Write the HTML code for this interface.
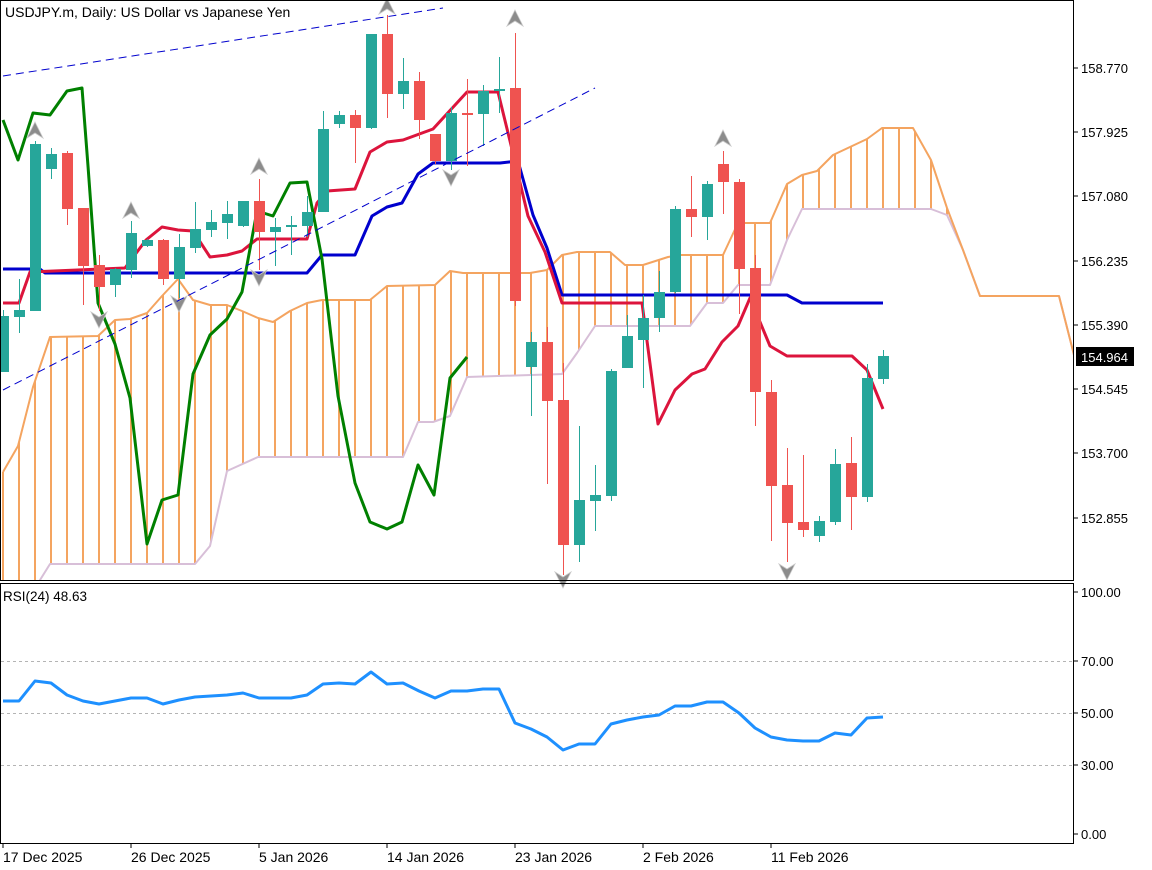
<!DOCTYPE html>
<html><head><meta charset="utf-8"><style>
html,body{margin:0;padding:0;background:#fff;}
svg{display:block;font-family:"Liberation Sans",sans-serif;font-size:13px;}
</style></head><body>
<svg id="s" width="1152" height="870" xmlns="http://www.w3.org/2000/svg">
<defs><clipPath id="mc"><rect x="1" y="1" width="1072" height="579"/></clipPath></defs>
<rect width="1152" height="870" fill="#fff"/>
<g id="cloud" clip-path="url(#mc)"></g>
<g id="lines" clip-path="url(#mc)"></g>
<g id="candles"></g>
<g id="arrows" fill="#8c8c8c" stroke="#c8c8c8" stroke-width="0.8"></g>
<line x1="3" y1="76" x2="443" y2="8" stroke="#0000cd" stroke-width="1" stroke-dasharray="8,5"/>
<line x1="3" y1="390" x2="595" y2="88" stroke="#0000cd" stroke-width="1" stroke-dasharray="8,5"/>
<rect x="0.5" y="0.5" width="1073" height="580" fill="none" stroke="#000"/>
<rect x="0.5" y="583.5" width="1073" height="260" fill="none" stroke="#000"/>
<text x="5" y="17" font-size="14">USDJPY.m, Daily:  US Dollar vs Japanese Yen</text>
<text x="3" y="601" font-size="13.5">RSI(24) 48.63</text>
<g font-size="13" fill="#000">
<line x1="1074" y1="68" x2="1078" y2="68" stroke="#000"/><text x="1081" y="73">158.770</text>
<line x1="1074" y1="132" x2="1078" y2="132" stroke="#000"/><text x="1081" y="137">157.925</text>
<line x1="1074" y1="196" x2="1078" y2="196" stroke="#000"/><text x="1081" y="201">157.080</text>
<line x1="1074" y1="261" x2="1078" y2="261" stroke="#000"/><text x="1081" y="266">156.235</text>
<line x1="1074" y1="325" x2="1078" y2="325" stroke="#000"/><text x="1081" y="330">155.390</text>
<line x1="1074" y1="389" x2="1078" y2="389" stroke="#000"/><text x="1081" y="394">154.545</text>
<line x1="1074" y1="453" x2="1078" y2="453" stroke="#000"/><text x="1081" y="458">153.700</text>
<line x1="1074" y1="518" x2="1078" y2="518" stroke="#000"/><text x="1081" y="523">152.855</text>
<rect x="1076" y="347" width="58" height="19" fill="#000"/>
<text x="1081" y="362" fill="#fff">154.964</text>
<line x1="1074" y1="592" x2="1078" y2="592" stroke="#000"/><text x="1081" y="597">100.00</text>
<line x1="1074" y1="661" x2="1078" y2="661" stroke="#000"/><text x="1081" y="666">70.00</text>
<line x1="1074" y1="713" x2="1078" y2="713" stroke="#000"/><text x="1081" y="718">50.00</text>
<line x1="1074" y1="765" x2="1078" y2="765" stroke="#000"/><text x="1081" y="770">30.00</text>
<line x1="1074" y1="834" x2="1078" y2="834" stroke="#000"/><text x="1081" y="839">0.00</text>
</g>
<g stroke="#b4b4b4" stroke-dasharray="3,3" stroke-width="1">
<line x1="1" y1="661.5" x2="1073" y2="661.5"/>
<line x1="1" y1="713.5" x2="1073" y2="713.5"/>
<line x1="1" y1="765.5" x2="1073" y2="765.5"/>
</g>
<polyline fill="none" stroke="#1e90ff" stroke-width="3" stroke-linejoin="round" points="3,701 19,701 35,681 51,683 67,695 83,701 99,704 115,701 131,698 147,698 163,704 179,700 195,697 211,696 227,695 243,693 259,698 275,698 291,698 307,695 323,684 339,683 355,684 371,672 387,684 403,683 419,691 435,698 451,691 467,691 483,689 499,689 515,723 531,729 547,737 563,750 579,744 595,744 611,724 627,720 643,717 659,715 675,706 691,706 707,702 723,702 739,713 755,728 771,737 787,740 803,741 819,741 835,733 851,735 867,718 883,717"/>
<g font-size="13" stroke="#000">
<line x1="3" y1="844" x2="3" y2="848"/><line x1="131" y1="844" x2="131" y2="848"/><line x1="259" y1="844" x2="259" y2="848"/><line x1="387" y1="844" x2="387" y2="848"/><line x1="515" y1="844" x2="515" y2="848"/><line x1="643" y1="844" x2="643" y2="848"/><line x1="771" y1="844" x2="771" y2="848"/>
</g>
<g font-size="14">
<text x="3" y="862">17 Dec 2025</text><text x="131" y="862">26 Dec 2025</text><text x="259" y="862">5 Jan 2026</text><text x="387" y="862">14 Jan 2026</text><text x="515" y="862">23 Jan 2026</text><text x="643" y="862">2 Feb 2026</text><text x="771" y="862">11 Feb 2026</text>
</g>
</svg>
<script>
var NS="http://www.w3.org/2000/svg";
function el(p,t,a){var e=document.createElementNS(NS,t);for(var k in a)e.setAttribute(k,a[k]);p.appendChild(e);return e;}
function interp(pts,x){if(x<pts[0][0])return null;for(var i=0;i<pts.length-1;i++){if(x>=pts[i][0]&&x<=pts[i+1][0]){var t=(x-pts[i][0])/(pts[i+1][0]-pts[i][0]||1);return pts[i][1]+t*(pts[i+1][1]-pts[i][1]);}}return null;}
var A=[[3,472],[18,446],[33,387],[50,337],[98,336],[115,320],[130,319],[147,313],[162,296],[178,279],[193,300],[210,305],[227,305],[242,311],[258,318],[273,322],[290,311],[307,303],[322,300],[370,300],[387,286],[435,285],[450,271],[463,273],[530,273],[547,270],[562,255],[577,252],[610,252],[625,265],[643,265],[668,257],[680,255],[723,255],[738,223],[770,223],[787,184],[802,175],[817,171],[833,155],[850,147],[867,139],[882,128],[913,128],[931,160],[947,208],[963,250],[980,296],[1059,296],[1074,355]];
var B=[[3,640],[40,580],[50,564],[195,564],[210,546],[227,471],[258,457],[403,457],[418,422],[433,422],[450,416],[467,377],[562,374],[577,353],[595,326],[690,326],[707,303],[723,303],[738,285],[770,285],[787,240],[802,209],[931,209],[947,215],[963,250],[980,296],[1059,296],[1074,355]];
var cl=document.getElementById("cloud");
for(var i=0;i<67;i++){var x=3+16*i;var a=interp(A,x),b=interp(B,x);if(a!=null&&b!=null&&b-a>1)el(cl,"line",{x1:x,y1:a,x2:x,y2:Math.min(b,580),stroke:"#f4a460","stroke-width":2});}
function pl(pts,c,w,p){el(p,"polyline",{points:pts.map(function(q){return q.join(",")}).join(" "),fill:"none",stroke:c,"stroke-width":w,"stroke-linejoin":"round"});}
pl(B,"#d8bfd8",2,cl);pl(A,"#f4a460",2,cl);
var ln=document.getElementById("lines");
pl([[3,269],[40,269],[45,273],[307,273],[322,255],[355,255],[372,216],[387,207],[402,203],[418,174],[433,163],[500,163],[518,161],[533,215],[547,248],[562,295],[787,295],[802,303],[883,303]],"#0000cd",3,ln);
pl([[3,303],[19,303],[30,272],[125,268],[146,240],[162,227],[178,230],[193,231],[210,257],[227,255],[242,251],[257,239],[307,239],[317,203],[327,191],[355,189],[370,152],[387,142],[403,140],[433,129],[467,92],[498,92],[510,141],[528,216],[545,252],[562,303],[642,303],[658,424],[675,390],[692,374],[705,369],[722,342],[738,326],[750,298],[770,346],[787,356],[852,356],[867,370],[883,409]],"#dc143c",3,ln);
pl([[3,120],[18,160],[33,113],[50,115],[67,91],[82,88],[88,166],[98,303],[115,344],[130,398],[147,544],[162,500],[178,495],[193,374],[210,335],[227,319],[242,292],[257,211],[273,216],[290,183],[307,182],[322,259],[338,396],[355,483],[370,522],[387,529],[402,522],[418,465],[434,495],[450,378],[467,357]],"#008000",3,ln);
var C=[[316,372,310,372,1],[310,317,279,333,1],[144,311,141,311,1],[154,169,148,179,1],[153,209,151,225,0],[208,266,208,305,0],[265,287,255,311,0],[269,285,268,297,1],[233,270,221,278,1],[240,246,239,247,1],[240,279,239,285,0],[247,279,234,298,1],[229,248,202,253,1],[222,230,210,237,1],[214,223,201,239,1],[201,226,201,227,1],[201,232,179,270,0],[227,232,218,266,1],[225,227,216,255,1],[212,226,196,237,1],[129,212,111,212,1],[115,124,111,128,1],[115,128,110,163,0],[34,128,34,129,1],[34,94,15,118,0],[81,94,58,109,1],[81,120,72,139,0],[134,161,134,164,0],[113,161,107,170,1],[113,115,79,166,0],[91,114,85,146,1],[89,91,57,113,1],[88,301,33,306,0],[342,367,332,416,1],[342,401,327,484,0],[400,545,363,575,0],[500,545,426,562,1],[495,501,465,531,1],[371,496,369,501,1],[336,368,315,368,1],[318,340,295,388,1],[292,318,271,332,1],[209,292,206,293,1],[209,217,176,237,0],[184,217,181,240,1],[164,182,151,214,0],[182,269,179,314,0],[268,392,255,426,0],[392,486,380,541,0],[485,523,448,562,0],[522,530,455,537,0],[521,536,516,542,1],[464,522,449,525,1],[463,497,437,530,0],[378,497,364,502,1],[356,379,350,384,1]];
var cg=document.getElementById("candles");
C.forEach(function(c,i){var x=3+16*i;var col=c[4]?"#26a69a":"#ef5350";
el(cg,"line",{x1:x+0.5,y1:c[2],x2:x+0.5,y2:c[3],stroke:col,"stroke-width":1});
el(cg,"rect",{x:x-5,y:c[0],width:11,height:Math.max(2,c[1]-c[0]),fill:col});});
var ar=document.getElementById("arrows");
function up(x,y){el(ar,"path",{d:"M"+x+","+(y-10)+" L"+(x+8)+","+(y+6)+" L"+x+","+(y+1)+" L"+(x-8)+","+(y+6)+" Z"});}
function dn(x,y){el(ar,"path",{d:"M"+x+","+(y+10)+" L"+(x+8)+","+(y-6)+" L"+x+","+(y-1)+" L"+(x-8)+","+(y-6)+" Z"});}
up(35,132);up(131,212);up(259,168);up(387,8);up(515,20);up(723,140);
dn(99,318);dn(179,302);dn(259,276);dn(451,176);dn(563,578);dn(787,570);
</script>
</body></html>
